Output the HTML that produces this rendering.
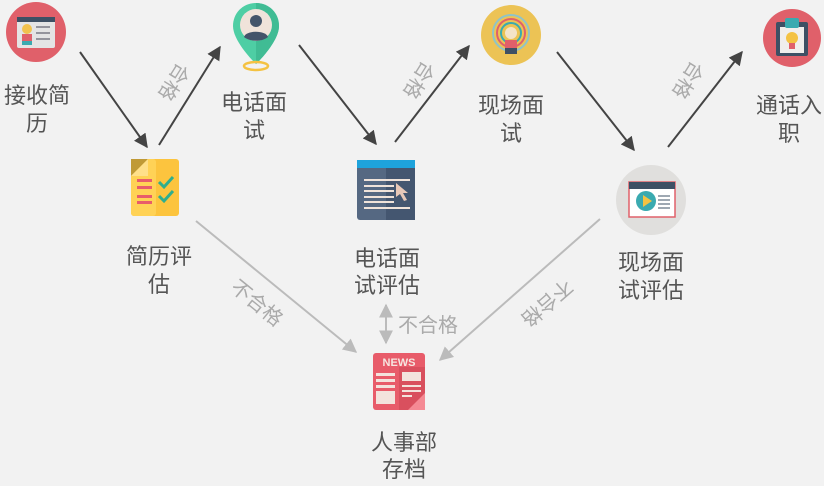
<!DOCTYPE html>
<html><head><meta charset="utf-8"><style>
html,body{margin:0;padding:0;background:#f2f2f2;}
svg{display:block;}
.t{font-family:"Liberation Sans","Noto Sans CJK SC",sans-serif;font-size:22px;fill:#555;text-anchor:middle;}
.g{font-family:"Liberation Sans","Noto Sans CJK SC",sans-serif;font-size:20px;fill:#aaa;text-anchor:middle;}
</style></head><body>
<svg width="824" height="486" viewBox="0 0 824 486" xmlns="http://www.w3.org/2000/svg">
<defs>
<marker id="ad" viewBox="0 0 10 10" refX="9" refY="5" markerWidth="7" markerHeight="7" orient="auto"><path d="M0,0L10,5L0,10z" fill="#444"/></marker>
<marker id="ag" viewBox="0 0 10 10" refX="9" refY="5" markerWidth="7" markerHeight="7" orient="auto-start-reverse"><path d="M0,0L10,5L0,10z" fill="#bbb"/></marker>
</defs>
<rect width="824" height="486" fill="#f2f2f2"/>
<g stroke="#444" stroke-width="2" marker-end="url(#ad)">
<line x1="80" y1="52" x2="147" y2="147"/>
<line x1="159" y1="145" x2="220" y2="47"/>
<line x1="299" y1="45" x2="376" y2="144"/>
<line x1="395" y1="142" x2="469" y2="46"/>
<line x1="557" y1="52" x2="634" y2="150"/>
<line x1="668" y1="147" x2="742" y2="52"/>
</g>
<g stroke="#bbb" stroke-width="2">
<line x1="196" y1="221" x2="356" y2="352" marker-end="url(#ag)"/>
<line x1="600" y1="219" x2="440" y2="360" marker-end="url(#ag)"/>
<line x1="386" y1="305" x2="386" y2="343" marker-end="url(#ag)" marker-start="url(#ag)"/>
</g>
<text class="g" transform="translate(174,82) rotate(122)" dy="7">合格</text>
<text class="g" transform="translate(419,80) rotate(122)" dy="7">合格</text>
<text class="g" transform="translate(688,80) rotate(122)" dy="7">合格</text>
<text class="g" transform="translate(257,303) rotate(39)" dy="7">不合格</text>
<text class="g" transform="translate(547,303) rotate(139)" dy="7">不合格</text>
<text class="g" x="428" y="332">不合格</text>
<circle cx="36" cy="32" r="30" fill="#e0606a"/>
<rect x="17" y="17" width="38" height="31" rx="2" fill="#e4e4e4"/>
<rect x="17" y="17" width="38" height="5" fill="#3e5064"/>
<circle cx="27" cy="29" r="5" fill="#f1c24e"/>
<rect x="22" y="34" width="10" height="7" fill="#e0606a"/><rect x="22" y="41" width="10" height="4" fill="#3aaab0"/>
<g stroke="#445" stroke-width="1"><line x1="36" y1="27" x2="50" y2="27"/><line x1="36" y1="33" x2="50" y2="33"/><line x1="36" y1="39" x2="50" y2="39"/></g>
<path d="M256,3 C243,3 233,13 233,26 C233,42 256,64 256,64 C256,64 279,42 279,26 C279,13 269,3 256,3z" fill="#4ecea4"/>
<path d="M256,3 C269,3 279,13 279,26 C279,42 256,64 256,64z" fill="#40bc94"/>
<circle cx="256" cy="25" r="16" fill="#f0e3da"/>
<circle cx="256" cy="21" r="6" fill="#44546a"/>
<path d="M244,37 C246,30 266,30 268,37 C262,42 250,42 244,37z" fill="#44546a"/>
<ellipse cx="256" cy="66" rx="12" ry="4" fill="none" stroke="#f4c242" stroke-width="2.5"/>
<circle cx="511" cy="35" r="30" fill="#ecc355"/>
<circle cx="511" cy="33" r="18" fill="none" stroke="#8fc3c8" stroke-width="2"/>
<circle cx="511" cy="33" r="14" fill="none" stroke="#e0606a" stroke-width="2"/>
<circle cx="511" cy="33" r="10" fill="none" stroke="#3aaab0" stroke-width="2"/>
<circle cx="511" cy="33" r="6" fill="#f4e4c8"/>
<rect x="505" y="40" width="12" height="8" fill="#e0606a"/><rect x="505" y="48" width="12" height="6" fill="#3e5064"/>
<circle cx="792" cy="38" r="29" fill="#e0606a"/>
<rect x="776" y="22" width="32" height="34" rx="2" fill="#3e5064"/>
<rect x="780" y="27" width="24" height="26" fill="#f0eeec"/>
<rect x="785" y="18" width="14" height="10" rx="2" fill="#3aaab0"/>
<circle cx="792" cy="38" r="6" fill="#f4c242"/><rect x="789" y="43" width="6" height="6" fill="#e0606a"/>
<rect x="131" y="159" width="48" height="57" rx="3" fill="#fcc43e"/>
<rect x="131" y="159" width="25" height="57" rx="3" fill="#ffd256"/>
<path d="M131,159 h17 l-17,17z" fill="#c09a36"/><path d="M148,159 v17 h-17z" fill="#ffe08a"/>
<g fill="#e85c6a"><rect x="137" y="179" width="15" height="3"/><rect x="137" y="186" width="15" height="3"/><rect x="137" y="195" width="15" height="3"/><rect x="137" y="201" width="15" height="3"/></g>
<g stroke="#2fae8e" stroke-width="3" fill="none"><path d="M159,182 l5,5 l9,-10"/><path d="M159,196 l5,5 l9,-10"/></g>
<rect x="357" y="160" width="58" height="60" rx="3" fill="#556882"/>
<rect x="386" y="160" width="29" height="60" fill="#445670"/>
<rect x="357" y="160" width="58" height="8" fill="#1ea3dc"/>
<g fill="#f0e3da"><rect x="364" y="179" width="46" height="2"/><rect x="364" y="185" width="30" height="2"/><rect x="364" y="190" width="30" height="2"/><rect x="364" y="196" width="30" height="2"/><rect x="364" y="201" width="30" height="2"/><rect x="364" y="207" width="46" height="2"/></g>
<path d="M396,183 l12,10 h-5 l4,7 l-3,1 l-4,-7 l-4,3z" fill="#e8c8b8"/>
<circle cx="651" cy="200" r="35" fill="#e0dfdd"/>
<rect x="629" y="182" width="46" height="35" fill="#fff" stroke="#e0606a" stroke-width="1.5"/>
<rect x="629" y="182" width="46" height="7" fill="#3e5064"/>
<circle cx="646" cy="201" r="10" fill="#3aaab0"/><path d="M643,195 l9,6 l-9,6z" fill="#f4c242"/>
<g stroke="#3e5064" stroke-width="1"><line x1="658" y1="196" x2="670" y2="196"/><line x1="658" y1="200" x2="670" y2="200"/><line x1="658" y1="204" x2="670" y2="204"/><line x1="658" y1="208" x2="670" y2="208"/></g>
<rect x="373" y="353" width="52" height="57" rx="3" fill="#e85c6a"/>
<rect x="399" y="367" width="26" height="43" fill="#d9505e"/>
<text x="399" y="366" style="font-family:'Liberation Sans',sans-serif;font-size:11px;font-weight:bold;fill:#f6e6e0;text-anchor:middle">NEWS</text>
<g fill="#f3e3dd"><rect x="376" y="373" width="19" height="3"/><rect x="376" y="379" width="19" height="3"/><rect x="376" y="385" width="19" height="3"/><rect x="376" y="391" width="19" height="13"/><rect x="402" y="372" width="19" height="9"/><rect x="402" y="385" width="19" height="2"/><rect x="402" y="390" width="19" height="2"/><rect x="402" y="395" width="10" height="2"/></g>
<path d="M425,393 v17 h-17z" fill="#f58a94"/>
<text class="t" x="37" y="103">接收简</text><text class="t" x="37" y="131">历</text>
<text class="t" x="254" y="110">电话面</text><text class="t" x="254" y="138">试</text>
<text class="t" x="511" y="113">现场面</text><text class="t" x="511" y="141">试</text>
<text class="t" x="789" y="113">通话入</text><text class="t" x="789" y="141">职</text>
<text class="t" x="159" y="264">简历评</text><text class="t" x="159" y="292">估</text>
<text class="t" x="387" y="266">电话面</text><text class="t" x="387" y="293">试评估</text>
<text class="t" x="651" y="270">现场面</text><text class="t" x="651" y="298">试评估</text>
<text class="t" x="404" y="450">人事部</text><text class="t" x="404" y="477">存档</text>
</svg>
</body></html>
